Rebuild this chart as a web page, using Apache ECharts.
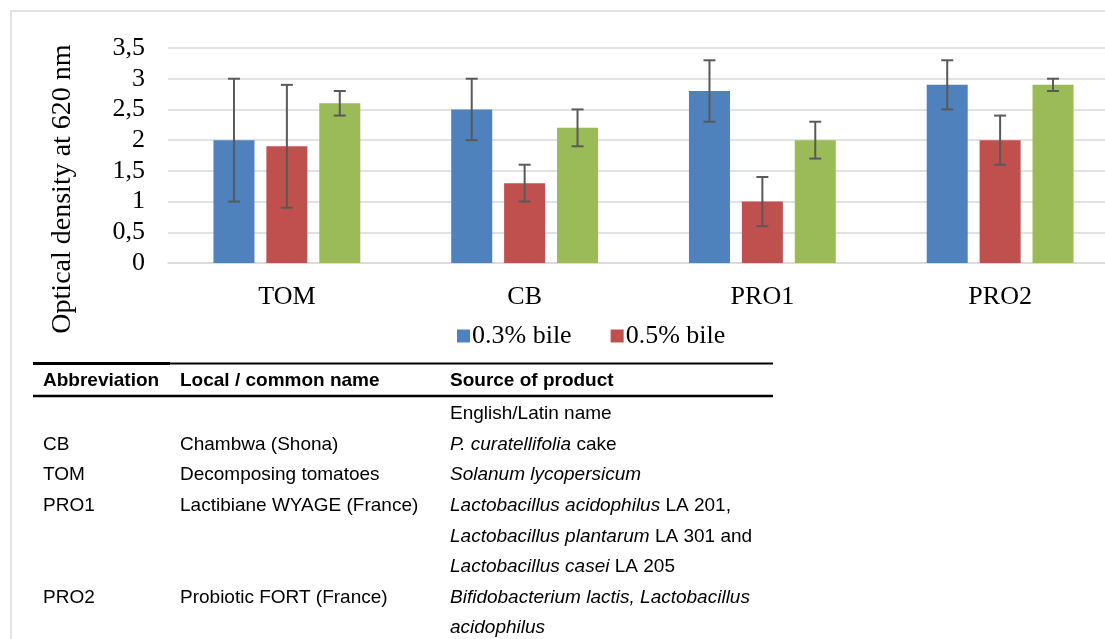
<!DOCTYPE html>
<html>
<head>
<meta charset="utf-8">
<script src="https://cdn.jsdelivr.net/npm/echarts@6/dist/echarts.min.js"></script>
<style>html,body{margin:0;padding:0;background:#fff;}#c{width:1105px;height:639px;}</style>
</head>
<body>
<div id="c"></div>
<script>
var categories = ['TOM', 'CB', 'PRO1', 'PRO2'];
var seriesNames = ['0.3% bile', '0.5% bile', '1% bile'];
var legendNames = ['0.3% bile', '0.5% bile'];
var values03 = [2.0, 2.5, 2.8, 2.9];
var values05 = [1.9, 1.3, 1.0, 2.0];
var values10 = [2.6, 2.2, 2.0, 2.9];
var low03 = [1.0, 2.0, 2.3, 2.5];
var high03 = [3.0, 3.0, 3.3, 3.3];
var low05 = [0.9, 1.0, 0.6, 1.6];
var high05 = [2.9, 1.6, 1.4, 2.4];
var low10 = [2.4, 1.9, 1.7, 2.8];
var high10 = [2.8, 2.5, 2.3, 3.0];
var yTicks = [0, 0.5, 1, 1.5, 2, 2.5, 3, 3.5];
var yTitle = 'Optical density at 620 nm';

var tableHeader = ['Abbreviation', 'Local / common name', 'Source of product'];
var tableAbbrev = ['', 'CB', 'TOM', 'PRO1', '', '', 'PRO2', ''];
var tableLocal = ['', 'Chambwa (Shona)', 'Decomposing tomatoes', 'Lactibiane WYAGE (France)', '', '', 'Probiotic FORT (France)', ''];
var tableSource = [
  'English/Latin name',
  '{i|P. curatellifolia} cake',
  '{i|Solanum lycopersicum}',
  '{i|Lactobacillus acidophilus} LA 201,',
  '{i|Lactobacillus plantarum} LA 301 and',
  '{i|Lactobacillus casei} LA 205',
  '{i|Bifidobacterium lactis, Lactobacillus}',
  '{i|acidophilus}'
];

var colors = ['#4F81BD', '#C0504D', '#9BBB59'];
var BAR_RATIO = 0.1725;
var GAP_RATIO = 0.29;
var SERIF = '"Liberation Serif", "Times New Roman", serif';
var SANS = '"Liberation Sans", Arial, sans-serif';
var TFS = 19;

function errData(lo, hi) {
  return categories.map(function (c, i) { return [i, lo[i], hi[i]]; });
}
function makeErr(idx) {
  return function (params, api) {
    var c = api.value(0), lo = api.value(1), hi = api.value(2);
    var band = api.size([1, 0])[0];
    var bw = band * BAR_RATIO;
    var gap = bw * GAP_RATIO;
    var off = (idx - 1) * (bw + gap);
    var pLo = api.coord([c, lo]);
    var pHi = api.coord([c, hi]);
    var x = pLo[0] + off;
    var cap = 6;
    var st = { stroke: '#595959', lineWidth: 2 };
    return {
      type: 'group',
      children: [
        { type: 'line', shape: { x1: x, y1: pHi[1], x2: x, y2: pLo[1] }, style: st },
        { type: 'line', shape: { x1: x - cap, y1: pHi[1], x2: x + cap, y2: pHi[1] }, style: st },
        { type: 'line', shape: { x1: x - cap, y1: pLo[1], x2: x + cap, y2: pLo[1] }, style: st }
      ]
    };
  };
}

var graphics = [];
graphics.push({ type: 'rect', shape: { x: 11, y: 11, width: 1200, height: 800 }, style: { fill: 'none', stroke: '#d9d9d9', lineWidth: 1.5 }, z: 0 });
graphics.push({ type: 'text', x: 63, y: 189, rotation: Math.PI / 2, style: { text: yTitle, font: '28px ' + SERIF, fill: '#000', align: 'center', verticalAlign: 'middle' } });
graphics.push({ type: 'line', shape: { x1: 33, y1: 363.5, x2: 773, y2: 363.5 }, style: { stroke: '#000', lineWidth: 2 } });
graphics.push({ type: 'line', shape: { x1: 33, y1: 363.5, x2: 170, y2: 363.5 }, style: { stroke: '#000', lineWidth: 3 } });
graphics.push({ type: 'line', shape: { x1: 33, y1: 396, x2: 773, y2: 396 }, style: { stroke: '#000', lineWidth: 2.5 } });
var colX = [43, 180, 450];
for (var h = 0; h < tableHeader.length; h++) {
  graphics.push({ type: 'text', x: colX[h], y: 388 - 7, style: { text: tableHeader[h], font: 'bold ' + TFS + 'px ' + SANS, fill: '#000', align: 'left', verticalAlign: 'middle' } });
}
var richI = { i: { fontStyle: 'italic', fontSize: TFS, fontFamily: SANS, fill: '#000' } };
for (var r = 0; r < tableSource.length; r++) {
  var yy = 421 + r * 30.6 - 7;
  if (tableAbbrev[r]) graphics.push({ type: 'text', x: colX[0], y: yy, style: { text: tableAbbrev[r], font: TFS + 'px ' + SANS, fill: '#000', align: 'left', verticalAlign: 'middle' } });
  if (tableLocal[r]) graphics.push({ type: 'text', x: colX[1], y: yy, style: { text: tableLocal[r], font: TFS + 'px ' + SANS, fill: '#000', align: 'left', verticalAlign: 'middle' } });
  graphics.push({ type: 'text', x: colX[2], y: yy, style: { text: tableSource[r], fontSize: TFS, fontFamily: SANS, fill: '#000', align: 'left', verticalAlign: 'middle', rich: richI } });
}

var chart = echarts.init(document.getElementById('c'));
var option = {
  animation: false,
  backgroundColor: '#fff',
  color: colors,
  grid: { left: 168, width: 951, top: 48, height: 215, containLabel: false, outerBoundsMode: 'none' },
  legend: {
    data: legendNames,
    left: 452, top: 318,
    itemWidth: 13, itemHeight: 13, itemGap: 39,
    icon: 'rect',
    textStyle: { fontFamily: SERIF, fontSize: 26, color: '#000', padding: [0, 0, 0, -3] }
  },
  xAxis: {
    type: 'category',
    data: categories,
    axisLine: { lineStyle: { color: '#d9d9d9', width: 1.5 } },
    axisTick: { show: false },
    axisLabel: { fontFamily: SERIF, fontSize: 26, color: '#000', margin: 21 }
  },
  yAxis: {
    type: 'value',
    min: 0, max: 3.5, interval: 0.5,
    axisLine: { show: false },
    axisTick: { show: false },
    splitLine: { lineStyle: { color: '#d9d9d9', width: 1.5 } },
    axisLabel: {
      fontFamily: SERIF, fontSize: 26, color: '#000', margin: 23,
      formatter: function (v) { return String(v).replace('.', ','); }
    }
  },
  graphic: graphics,
  series: [
    { name: seriesNames[0], type: 'bar', data: values03, barWidth: (BAR_RATIO * 100) + '%', barGap: (GAP_RATIO * 100) + '%', itemStyle: { color: colors[0] } },
    { name: seriesNames[1], type: 'bar', data: values05, barWidth: (BAR_RATIO * 100) + '%', barGap: (GAP_RATIO * 100) + '%', itemStyle: { color: colors[1] } },
    { name: seriesNames[2], type: 'bar', data: values10, barWidth: (BAR_RATIO * 100) + '%', barGap: (GAP_RATIO * 100) + '%', itemStyle: { color: colors[2] } },
    { type: 'custom', renderItem: makeErr(0), data: errData(low03, high03), z: 10, silent: true },
    { type: 'custom', renderItem: makeErr(1), data: errData(low05, high05), z: 10, silent: true },
    { type: 'custom', renderItem: makeErr(2), data: errData(low10, high10), z: 10, silent: true }
  ]
};
chart.setOption(option);
</script>
</body>
</html>
